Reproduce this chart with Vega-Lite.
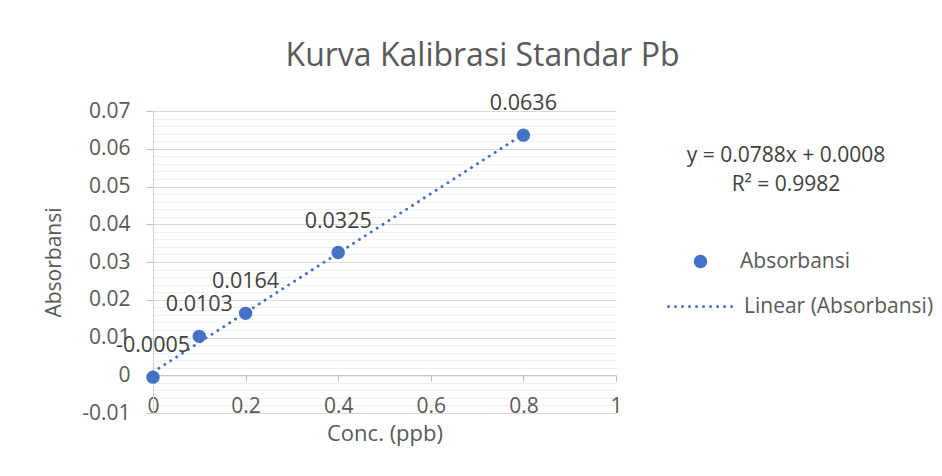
{
  "$schema": "https://vega.github.io/schema/vega-lite/v6.json",
  "width": 463,
  "height": 302,
  "autosize": {"type": "none"},
  "padding": {"left": 153, "top": 111, "right": 326, "bottom": 63},
  "background": "white",
  "config": {"font": "Open Sans", "view": {"stroke": null}},
  "title": {
    "text": "Kurva Kalibrasi Standar Pb",
    "fontSize": 32,
    "fontWeight": "normal",
    "color": "#595959",
    "anchor": "middle",
    "frame": "group",
    "dx": 98,
    "offset": 20
  },
  "data": {
    "values": [
      {"conc": 0, "abs": -0.0005, "label": "-0.0005"},
      {"conc": 0.1, "abs": 0.0103, "label": "0.0103"},
      {"conc": 0.2, "abs": 0.0164, "label": "0.0164"},
      {"conc": 0.4, "abs": 0.0325, "label": "0.0325"},
      {"conc": 0.8, "abs": 0.0636, "label": "0.0636"}
    ]
  },
  "layer": [
    {
      "transform": [{"regression": "abs", "on": "conc"}],
      "mark": {"type": "line", "color": "#4472C4", "strokeWidth": 3, "strokeCap": "round"},
      "encoding": {
        "x": {
          "field": "conc", "type": "quantitative",
          "scale": {"domain": [0, 1], "nice": false, "zero": false},
          "axis": {
            "orient": "bottom", "values": [0, 0.2, 0.4, 0.6, 0.8, 1],
            "domain": false, "ticks": false, "tickSize": 0, "grid": false,
            "labelExpr": "toString(round(datum.value*10)/10)",
            "labelFontSize": 21, "labelColor": "#595959", "labelBaseline": "alphabetic",
            "labelPadding": -1, "labelFlush": false,
            "title": "Conc. (ppb)", "titleFontSize": 22, "titleFontWeight": "normal",
            "titleColor": "#595959", "titlePadding": 7
          }
        },
        "y": {
          "field": "abs", "type": "quantitative",
          "scale": {"domain": [-0.01, 0.07], "nice": false, "zero": false},
          "axis": {
            "orient": "left",
            "values": [-0.008, -0.006, -0.004, -0.002, 0.002, 0.004, 0.006, 0.008, 0.012, 0.014, 0.016, 0.018, 0.022, 0.024, 0.026, 0.028, 0.032, 0.034, 0.036, 0.038, 0.042, 0.044, 0.046, 0.048, 0.052, 0.054, 0.056, 0.058, 0.062, 0.064, 0.066, 0.068],
            "grid": true, "gridColor": "#f0f0f0", "gridWidth": 1,
            "domain": false, "ticks": false, "labels": false, "title": null
          }
        },
        "strokeDash": {
          "datum": "Linear (Absorbansi)", "type": "nominal",
          "scale": {"range": [[0.01, 7]]},
          "legend": {
            "orient": "none", "legendX": 514, "legendY": 159,
            "title": null, "padding": 0,
            "symbolType": "stroke", "symbolSize": 4900, "symbolStrokeWidth": 3,
            "symbolStrokeColor": "#4472C4",
            "labelFontSize": 21, "labelColor": "#595959", "labelOffset": 4, "labelLimit": 300,
            "encode": {"symbols": {"update": {"strokeCap": {"value": "round"}}}}
          }
        }
      }
    },
    {
      "mark": {"type": "point", "filled": true, "size": 180, "opacity": 1},
      "encoding": {
        "x": {
          "field": "conc", "type": "quantitative",
          "scale": {"domain": [0, 1], "nice": false, "zero": false},
          "axis": {
            "orient": "bottom", "values": [0, 0.2, 0.4, 0.6, 0.8, 1],
            "offset": -37.75,
            "domain": true, "domainColor": "#bfbfbf", "domainWidth": 1,
            "ticks": true, "tickColor": "#bfbfbf", "tickSize": 6,
            "labels": false, "grid": false, "title": null
          }
        },
        "y": {
          "field": "abs", "type": "quantitative",
          "scale": {"domain": [-0.01, 0.07], "nice": false, "zero": false},
          "axis": {
            "orient": "left",
            "values": [-0.01, 0, 0.01, 0.02, 0.03, 0.04, 0.05, 0.06, 0.07],
            "grid": true, "gridColor": "#d9d9d9", "gridWidth": 1,
            "domain": true, "domainColor": "#d0d0d0",
            "ticks": true, "tickColor": "#bfbfbf", "tickSize": 7,
            "labelExpr": "toString(round(datum.value*100)/100)",
            "labelFontSize": 21, "labelColor": "#595959", "labelPadding": 16,
            "title": "Absorbansi", "titleFontSize": 21, "titleFontWeight": "normal",
            "titleColor": "#595959", "titlePadding": 17
          }
        },
        "color": {
          "datum": "Absorbansi", "type": "nominal",
          "scale": {"range": ["#4472C4"]},
          "legend": {
            "orient": "none", "legendX": 537, "legendY": 140, "padding": 0,
            "title": null,
            "symbolType": "circle", "symbolSize": 180,
            "labelFontSize": 21, "labelColor": "#595959", "labelOffset": 29, "labelLimit": 300
          }
        },
        "shape": {
          "datum": "trendline equation", "type": "nominal",
          "scale": {"range": ["circle"]},
          "legend": {
            "orient": "none", "legendX": 534, "legendY": 34, "padding": 0,
            "title": ["y = 0.0788x + 0.0008", "R² = 0.9982"],
            "titleFontSize": 21, "titleFontWeight": "normal", "titleColor": "#404040",
            "titleAlign": "center", "titleAnchor": "middle", "titleLineHeight": 29,
            "titleLimit": 400,
            "symbolOpacity": 0, "symbolStrokeWidth": 0, "labelOpacity": 0, "labelFontSize": 1
          }
        }
      }
    },
    {
      "mark": {"type": "text", "dy": -31, "fontSize": 21.5, "color": "#404040"},
      "encoding": {
        "x": {"field": "conc", "type": "quantitative", "scale": {"domain": [0, 1], "nice": false, "zero": false}, "axis": null},
        "y": {"field": "abs", "type": "quantitative", "scale": {"domain": [-0.01, 0.07], "nice": false, "zero": false}, "axis": null},
        "text": {"field": "label"}
      }
    }
  ],
  "resolve": {"axis": {"x": "independent", "y": "independent"}}
}
